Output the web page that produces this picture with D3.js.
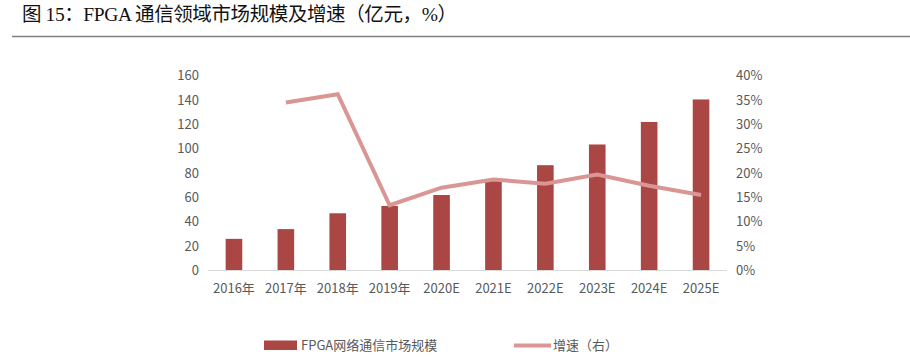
<!DOCTYPE html>
<html><head><meta charset="utf-8">
<script src="https://cdn.jsdelivr.net/npm/d3@7"></script>
<style>body{margin:0;background:#fff;}svg{display:block;}</style>
</head><body>
<script>
const categories = ["2016年","2017年","2018年","2019年","2020E","2021E","2022E","2023E","2024E","2025E"];
const marketSize = [26, 34, 47, 53, 62, 75, 86.5, 103.5, 122, 140.5];
const growth = [null, 34.5, 36.2, 13.4, 17.0, 18.7, 17.8, 19.7, 17.4, 15.5];
const leftTicks = [0,20,40,60,80,100,120,140,160];
const rightTicks = [0,5,10,15,20,25,30,35,40];
const titleText = "图 15：FPGA 通信领域市场规模及增速（亿元，%）";
const legendBar = "FPGA网络通信市场规模";
const legendLine = "增速（右）";

const W = 910, H = 359;
const svg = d3.select("body").append("svg").attr("width", W).attr("height", H);
const font = "'Microsoft YaHei','Noto Sans CJK SC','Noto Sans',sans-serif";
const grey = "#595959";
const barColor = "#aa4644";
const lineColor = "#d99694";

svg.append("text").attr("x", 22).attr("y", 21)
  .attr("font-family", "'Liberation Serif','DejaVu Serif','Noto Sans CJK SC',serif")
  .attr("font-size", 19.5).attr("fill", "#111")
  .attr("textLength", 435).attr("lengthAdjust", "spacing").text(titleText);
svg.append("line").attr("x1", 12).attr("x2", 910).attr("y1", 36.5).attr("y2", 36.5)
  .attr("stroke", "#808080").attr("stroke-width", 1.6);

const x = d3.scaleBand().domain(categories).range([208, 727]).paddingInner(0.68).paddingOuter(0.34);
const yL = d3.scaleLinear().domain([0,160]).range([270.5, 75.7]);
const yR = d3.scaleLinear().domain([0,40]).range([270.5, 75.7]);

// bars
svg.append("g").selectAll("rect").data(categories).join("rect")
  .attr("x", d => x(d)).attr("width", x.bandwidth())
  .attr("y", (d,i) => yL(marketSize[i])).attr("height", (d,i) => yL(0) - yL(marketSize[i]))
  .attr("fill", barColor);

// baseline
svg.append("line").attr("x1", 208).attr("x2", 727).attr("y1", 270.5).attr("y2", 270.5)
  .attr("stroke", "#d9d9d9").attr("stroke-width", 1);

// line
const lineData = categories.map((c,i) => ({c, v: growth[i]})).filter(d => d.v !== null);
svg.append("path").datum(lineData)
  .attr("d", d3.line().x(d => x(d.c) + x.bandwidth()/2).y(d => yR(d.v)))
  .attr("fill", "none").attr("stroke", lineColor).attr("stroke-width", 4).attr("stroke-linejoin", "miter");

// left axis
const axL = d3.axisLeft(yL).tickValues(leftTicks).tickSize(0).tickPadding(0);
const gL = svg.append("g").attr("transform", "translate(199,0)").call(axL);
gL.select(".domain").remove();
gL.selectAll("text").attr("font-family", font).attr("font-size", 13).attr("fill", grey);

// right axis
const axR = d3.axisRight(yR).tickValues(rightTicks).tickSize(0).tickPadding(0).tickFormat(d => d + "%");
const gR = svg.append("g").attr("transform", "translate(736,0)").call(axR);
gR.select(".domain").remove();
gR.selectAll("text").attr("font-family", font).attr("font-size", 13).attr("fill", grey);

// bottom axis
const axB = d3.axisBottom(x).tickSize(0).tickPadding(0);
const gB = svg.append("g").attr("transform", "translate(0,284)").call(axB);
gB.select(".domain").remove();
gB.selectAll("text").attr("font-family", font).attr("font-size", 13).attr("fill", grey);

// legend
svg.append("rect").attr("x", 264).attr("y", 340.5).attr("width", 33).attr("height", 9.5).attr("fill", barColor);
svg.append("text").attr("x", 301).attr("y", 350).attr("font-family", font).attr("font-size", 13).attr("fill", grey).text(legendBar);
svg.append("line").attr("x1", 514).attr("x2", 551).attr("y1", 345.5).attr("y2", 345.5).attr("stroke", lineColor).attr("stroke-width", 4);
svg.append("text").attr("x", 553).attr("y", 350).attr("font-family", font).attr("font-size", 13).attr("fill", grey).text(legendLine);
</script>
</body></html>
